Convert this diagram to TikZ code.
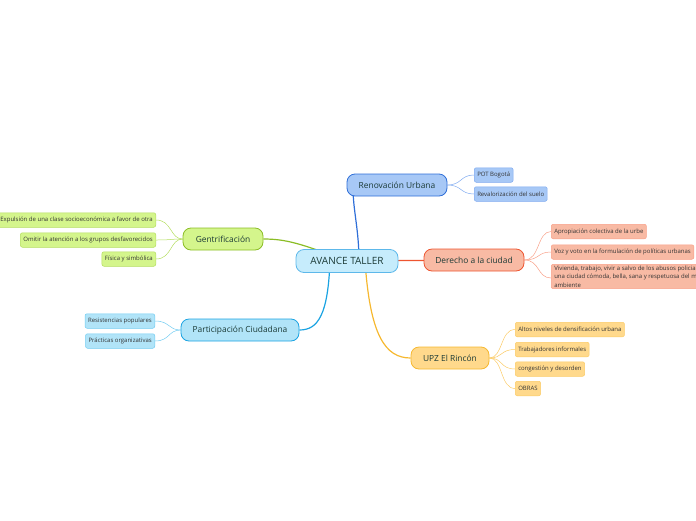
\documentclass[tikz,border=0pt]{standalone}
\usepackage{fontspec}
\setmainfont{Open Sans}
\usetikzlibrary{backgrounds}
\definecolor{txt}{HTML}{1B3A36}
\definecolor{ltxt}{HTML}{333333}
\definecolor{cenF}{HTML}{C6ECFC}\definecolor{cenD}{HTML}{5DB8EA}
\definecolor{renF}{HTML}{A7C8F6}\definecolor{renD}{HTML}{2F6FD8}\definecolor{renL}{HTML}{7FAAF0}
\definecolor{derF}{HTML}{F8BAA4}\definecolor{derD}{HTML}{EE5530}\definecolor{derL}{HTML}{F8A088}
\definecolor{upzF}{HTML}{FFD98C}\definecolor{upzD}{HTML}{F6B830}\definecolor{upzL}{HTML}{FBCB66}
\definecolor{parF}{HTML}{B1E4F8}\definecolor{parD}{HTML}{1AA3E2}\definecolor{parL}{HTML}{72CCF2}
\definecolor{genF}{HTML}{D4F58C}\definecolor{genD}{HTML}{8BBD25}\definecolor{genL}{HTML}{B3DD5E}
\begin{document}
\begin{tikzpicture}[x=1pt,y=-1pt,
  branch/.style={draw, rounded corners=8pt, minimum height=22pt, inner xsep=4pt, inner ysep=2pt,
     font=\fontsize{8.4}{9}\selectfont, text=txt, line width=0.8pt},
  leaf/.style={draw, rounded corners=2pt, minimum height=14.5pt, inner xsep=3pt, inner ysep=1.5pt,
     font=\fontsize{6}{7}\selectfont, text=ltxt, line width=0.5pt},
  mainline/.style={line width=1.2pt},
  leafline/.style={line width=0.5pt}]
\useasboundingbox (0,0) rectangle (696,520);
\clip (0,0) rectangle (696,520);
% central
\node[branch, fill=cenF, draw=cenD, minimum width=102pt, minimum height=23pt, font=\fontsize{10}{11}\selectfont] (c) at (347,261) {AVANCE TALLER};
% branches
\node[branch, fill=renF, draw=renD, minimum width=100pt] (ren) at (397,185) {Renovación Urbana};
\node[branch, fill=derF, draw=derD, minimum width=100pt] (der) at (474,260) {Derecho a la ciudad};
\node[branch, fill=upzF, draw=upzD, minimum width=78pt] (upz) at (450,358) {UPZ El Rincón};
\node[branch, fill=parF, draw=parD, minimum width=118pt] (par) at (240,330) {Participación Ciudadana};
\node[branch, fill=genF, draw=genD, minimum width=80pt] (gen) at (223,239) {Gentrificación};
\coordinate (renin) at (353,188);
% leaves
\node[leaf, fill=renF, draw=renL, anchor=west] (r1) at (474,175) {POT Bogotá};
\node[leaf, fill=renF, draw=renL, anchor=west] (r2) at (474,194) {Revalorización del suelo};
\node[leaf, fill=derF, draw=derL, anchor=west] (d1) at (551,231.5) {Apropiación colectiva de la urbe};
\node[leaf, fill=derF, draw=derL, anchor=west] (d2) at (551,252) {Voz y voto en la formulación de políticas urbanas};
\node[leaf, fill=derF, draw=derL, anchor=north west, align=left, font=\fontsize{6}{8.4}\selectfont] (d3) at (551,264) {Vivienda, trabajo, vivir a salvo de los abusos policiales,\\una ciudad cómoda, bella, sana y respetuosa del medio\\ambiente};
\node[leaf, fill=upzF, draw=upzL, anchor=west] (u1) at (515,329.5) {Altos niveles de densificación urbana};
\node[leaf, fill=upzF, draw=upzL, anchor=west] (u2) at (515,349.5) {Trabajadores informales};
\node[leaf, fill=upzF, draw=upzL, anchor=west] (u3) at (515,369) {congestión y desorden};
\node[leaf, fill=upzF, draw=upzL, anchor=west] (u4) at (515,388.5) {OBRAS};
\node[leaf, fill=parF, draw=parL, anchor=east] (p1) at (155,321) {Resistencias populares};
\node[leaf, fill=parF, draw=parL, anchor=east] (p2) at (155,341) {Prácticas organizativas};
\node[leaf, fill=genF, draw=genL, anchor=east] (g1) at (156,220) {Expulsión de una clase socioeconómica a favor de otra};
\node[leaf, fill=genF, draw=genL, anchor=east] (g2) at (156,240) {Omitir la atención a los grupos desfavorecidos};
\node[leaf, fill=genF, draw=genL, anchor=east] (g3) at (156,259) {Física y simbólica};
\begin{scope}[on background layer]
% main connectors
\draw[mainline, genD] (gen.east) .. controls (285,239) and (300,243) .. (c.center);
\draw[mainline, renD] (c.center) ++(12,0) .. controls (359,230) and (353,210) .. (renin);
\draw[mainline, derD] (c.center) -- (der.center);
\draw[mainline, upzD] (c.center) ++(18,0) .. controls (370,335) and (385,358) .. (upz.west);
\draw[mainline, parD] (c.center) ++(-17,0) .. controls (328,315) and (318,330) .. (par.east);
% leaf connectors
\foreach \l in {r1,r2}{\draw[leafline, renL] (ren.east) .. controls (462,185) and (460,0|-\l.west) .. (\l.west);}
\foreach \l in {d1,d2}{\draw[leafline, derL] (der.east) .. controls (540,260) and (537,0|-\l.west) .. (\l.west);}
\draw[leafline, derL] (der.east) .. controls (540,260) and (537,278) .. (551,278);
\foreach \l in {u1,u2,u3,u4}{\draw[leafline, upzL] (upz.east) .. controls (503,358) and (500,0|-\l.west) .. (\l.west);}
\foreach \l in {p1,p2}{\draw[leafline, parL] (par.west) .. controls (168,330) and (170,0|-\l.east) .. (\l.east);}
\foreach \l in {g1,g2,g3}{\draw[leafline, genL] (gen.west) .. controls (170,239) and (172,0|-\l.east) .. (\l.east);}
\end{scope}
\end{tikzpicture}
\end{document}
